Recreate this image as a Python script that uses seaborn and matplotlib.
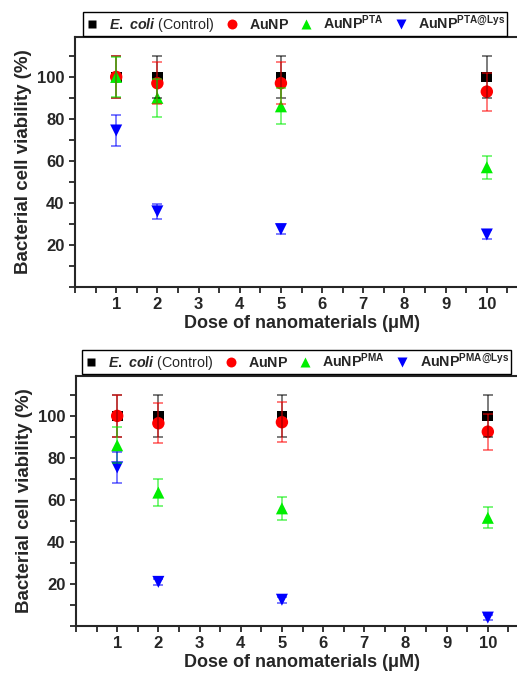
import numpy as np
import pandas as pd
import matplotlib
matplotlib.use("Agg")
import matplotlib.pyplot as plt
import seaborn as sns
from matplotlib.ticker import MultipleLocator

sns.set_style("ticks")
plt.rcParams["font.family"] = ["Liberation Sans", "DejaVu Sans"]
plt.rcParams["mathtext.fontset"] = "custom"
plt.rcParams["mathtext.rm"] = "Liberation Sans:bold"
plt.rcParams["mathtext.bf"] = "Liberation Sans:bold"
plt.rcParams["mathtext.it"] = "Liberation Sans:bold:italic"

# dose (uM)
dose = [1, 2, 5, 10]

# top panel (PTA)
ctrl_a = [100, 100, 100, 100]
ctrl_a_err = [10, 10, 10, 10]
aunp_a = [100, 97, 97, 93]
aunp_a_err = [10, 10, 10, 9]
pta = [100, 90, 86, 57]
pta_err = [9.5, 9, 8.5, 5.5]
pta_lys = [74.5, 36, 27.5, 25]
pta_lys_err = [7.5, 3.5, 2.5, 2.2]

# bottom panel (PMA)
ctrl_b = [100, 100, 100, 100]
ctrl_b_err = [10, 10, 10, 10]
aunp_b = [100, 96.5, 97, 92.5]
aunp_b_err = [10, 9.5, 9.5, 8.5]
pma = [86, 63.5, 56, 51.5]
pma_err = [8.5, 6.5, 5.5, 5]
pma_lys = [75.5, 21, 12.5, 4]
pma_lys_err = [7.5, 1.5, 1.5, 1]

labels_a = [r"$\mathit{E.\ coli}$ (Control)", r"$\mathbf{AuNP}$",
            r"$\mathbf{AuNP}^{\mathbf{PTA}}$", r"$\mathbf{AuNP}^{\mathbf{PTA@Lys}}$"]
labels_b = [r"$\mathit{E.\ coli}$ (Control)", r"$\mathbf{AuNP}$",
            r"$\mathbf{AuNP}^{\mathbf{PMA}}$", r"$\mathbf{AuNP}^{\mathbf{PMA@Lys}}$"]

colors = ["#000000", "#ff0000", "#00ee00", "#0000ff"]
markers = ["s", "o", "^", "v"]
sizes = [60, 80, 75, 75]

W, H = 517, 675
fig = plt.figure(figsize=(W / 100, H / 100), dpi=100)


def panel(rect, series, errs, labels, leg_xy):
    ax = fig.add_axes(rect)
    rows = []
    for lab, vals, err in zip(labels, series, errs):
        for d, v, e in zip(dose, vals, err):
            rows.append({"dose": d, "viability": v, "err": e, "group": lab})
    df = pd.DataFrame(rows)
    for lab, c, m in zip(labels, colors, markers):
        sub = df[df["group"] == lab]
        ax.errorbar(sub["dose"], sub["viability"], yerr=sub["err"], fmt="none",
                    ecolor=c, alpha=0.6, elinewidth=1.2, capsize=3.5, capthick=1.2)
    sns.scatterplot(data=df, x="dose", y="viability", hue="group", style="group",
                    size="group", sizes=dict(zip(labels, sizes)),
                    palette=dict(zip(labels, colors)), markers=dict(zip(labels, markers)),
                    edgecolor="none", ax=ax, legend=True)
    ax.set_xlim(0, 11)
    ax.set_ylim(0, 119)
    ax.xaxis.set_minor_locator(MultipleLocator(0.5))
    ax.yaxis.set_minor_locator(MultipleLocator(10))
    ax.set_xticks([1, 2, 3, 4, 5, 6, 7, 8, 9, 10])
    ax.set_yticks([20, 40, 60, 80, 100])
    ax.tick_params(which="both", direction="out", width=1.3, length=4, labelsize=12)
    for t in ax.get_xticklabels() + ax.get_yticklabels():
        t.set_fontweight("bold")
    for s in ax.spines.values():
        s.set_linewidth(1.5)
    ax.set_xlabel("Dose of nanomaterials (\u03bcM)", fontsize=13, fontweight="bold", labelpad=2)
    ax.set_ylabel("Bacterial cell viability (%)", fontsize=13.5, fontweight="bold", labelpad=4)
    h, l = ax.get_legend_handles_labels()
    leg = ax.legend(h, l, loc="upper left", bbox_to_anchor=leg_xy, bbox_transform=fig.transFigure,
                    ncol=4, frameon=True, fancybox=False, edgecolor="black", framealpha=1,
                    fontsize=10.3, handletextpad=0.7, columnspacing=0.7, borderpad=0.12,
                    borderaxespad=0, markerscale=0.8, handlelength=1.0)
    leg.get_frame().set_linewidth(1.0)
    return ax


ax1 = panel([75 / W, 1 - 287 / H, 453 / W, 250 / H],
            [ctrl_a, aunp_a, pta, pta_lys], [ctrl_a_err, aunp_a_err, pta_err, pta_lys_err],
            labels_a, (83 / W, 1 - 12 / H))
ax2 = panel([76 / W, 1 - 626 / H, 453 / W, 250 / H],
            [ctrl_b, aunp_b, pma, pma_lys], [ctrl_b_err, aunp_b_err, pma_err, pma_lys_err],
            labels_b, (82 / W, 1 - 350 / H))

fig.savefig("out.png", dpi=100)
